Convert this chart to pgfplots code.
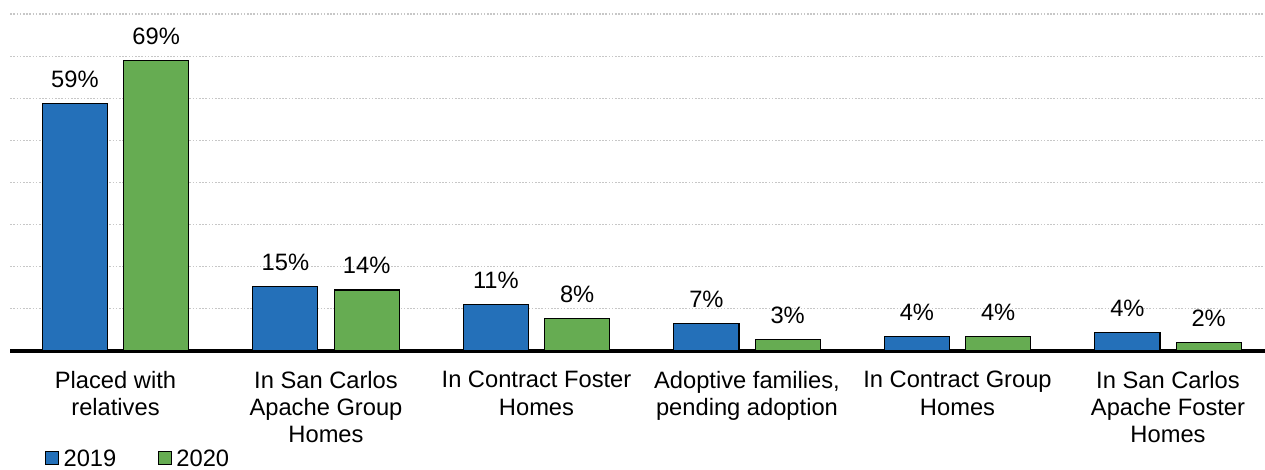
\documentclass[border=0pt]{standalone}
\usepackage{fontspec}
\setmainfont{Liberation Sans}
\usepackage{pgfplots}
\usepackage{pgfplotstable}
\pgfplotsset{compat=1.18}
\definecolor{cblue}{RGB}{36,112,185}
\definecolor{cgreen}{RGB}{102,172,82}
\newcommand{\cf}{\fontsize{23.7bp}{27.3bp}\selectfont}

\pgfplotstableread{
x y lab
0 58.8 59
1 15.4 15
2 11.0 11
3 6.5 7
4 3.5 4
5 4.3 4
}\tabA
\pgfplotstableread{
x y lab
0 68.9 69
1 14.5 14
2 7.8 8
3 2.8 3
4 3.4 4
5 2.0 2
}\tabB

\begin{document}
\begin{tikzpicture}
\useasboundingbox (0,0) rectangle (1265bp,470bp);
\begin{axis}[
  at={(10.25bp,119bp)}, anchor=south west,
  scale only axis, width=1263bp, height=337bp,
  xmin=-0.5, xmax=5.5, ymin=0, ymax=80,
  axis line style={draw=none},
  ytick={10,20,...,80}, yticklabel=\empty, ytick style={draw=none},
  ymajorgrids=true,
  major grid style={black!22, line width=1.1bp, dash pattern=on 1.6bp off 1.6bp},
  extra y ticks={0}, extra y tick labels={},
  extra y tick style={grid=major, major grid style={black, line width=4bp, solid}, tick style={draw=none}},
  xtick={0,...,5}, xtick style={draw=none},
  xticklabels={{Placed with\\relatives},{In San Carlos\\Apache Group\\Homes},{In Contract Foster\\Homes},{Adoptive families,\\pending adoption},{In Contract Group\\Homes},{In San Carlos\\Apache Foster\\Homes}},
  xticklabel style={font=\cf, align=center, anchor=north, inner sep=0pt, yshift=-20bp},
  nodes near coords={\pgfplotspointmeta\%},
  point meta=explicit symbolic,
  nodes near coords style={font=\cf, anchor=base, inner sep=0pt, yshift=16bp},
  legend style={at={(0.0275,-0.318)}, anchor=west, draw=none, fill=none,
    legend columns=2, font=\cf, inner sep=0pt,
    nodes={inner sep=0pt, text depth=0pt},
    cells={anchor=base west},
    /tikz/every odd column/.append style={column sep=4.4bp},
    /tikz/every even column/.append style={column sep=41.7bp}},
  clip=false,
]
\addplot[ybar, bar width=0.309, bar shift=0, fill=cblue, draw=black, line width=1.2bp,
  legend image code/.code={\draw[fill=cblue, draw=black, line width=1bp] (0bp,2bp) rectangle (13bp,15bp);}]
  table[x expr=\thisrow{x}-0.193, y=y, meta=lab] {\tabA};
\addplot[ybar, bar width=0.309, bar shift=0, fill=cgreen, draw=black, line width=1.2bp,
  legend image code/.code={\draw[fill=cgreen, draw=black, line width=1bp] (0bp,2bp) rectangle (13bp,15bp);}]
  table[x expr=\thisrow{x}+0.193, y=y, meta=lab] {\tabB};
\legend{2019,2020}
\end{axis}
\end{tikzpicture}
\end{document}
